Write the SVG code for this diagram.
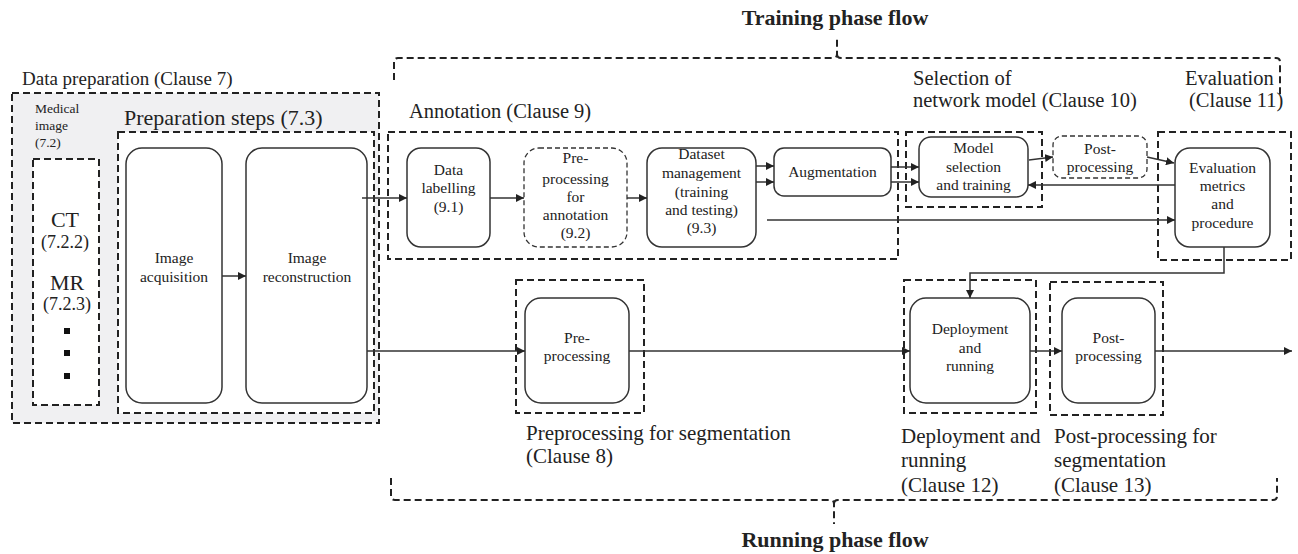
<svg xmlns="http://www.w3.org/2000/svg" width="1298" height="554" viewBox="0 0 1298 554">
<defs>
<style>
text{font-family:"Liberation Serif","Times New Roman",serif;fill:#222}
.n{font-size:15.5px;text-anchor:middle}
.lbl{font-size:20.5px}
.big{font-size:21px}
.bold{font-size:22px;font-weight:bold;text-anchor:middle}
.box{fill:#fff;stroke:#333;stroke-width:1.5}
.dbox{fill:#fff;stroke:#333;stroke-width:1.3;stroke-dasharray:5 3}
.grp{fill:none;stroke:#222;stroke-width:2;stroke-dasharray:7 4}
.grey{fill:#f0f0f2}
.white{fill:#fff}
.brace{fill:none;stroke:#222;stroke-width:2;stroke-dasharray:7 4}
.c{fill:none;stroke:#333;stroke-width:1.5}
</style>
<marker id="ah" viewBox="0 0 10 10" refX="10" refY="5" markerWidth="8" markerHeight="8" markerUnits="userSpaceOnUse" orient="auto">
<path d="M0,0 L10,5 L0,10 z" fill="#222"/>
</marker>
</defs>
<rect width="1298" height="554" fill="#fff"/>

<g id="data-preparation">
<rect x="12" y="93" width="367" height="330" class="grp grey"/>
<text x="22" y="85" style="font-size:19px">Data preparation (Clause 7)</text>
</g>
<g id="medical-image">
<text x="35" y="113" style="font-size:13.5px">Medical</text>
<text x="35" y="130" style="font-size:13.5px">image</text>
<text x="35" y="147" style="font-size:13.5px">(7.2)</text>
<rect x="33" y="159" width="66" height="246" class="grp white"/>
<text x="65" y="227" style="font-size:22px;text-anchor:middle">CT</text>
<text x="65" y="248" style="font-size:18px;text-anchor:middle">(7.2.2)</text>
<text x="67" y="290" style="font-size:22px;text-anchor:middle">MR</text>
<text x="67" y="310" style="font-size:18px;text-anchor:middle">(7.2.3)</text>
<rect x="64" y="328" width="6" height="6" fill="#111"/>
<rect x="64" y="350" width="6" height="6" fill="#111"/>
<rect x="64" y="373" width="6" height="6" fill="#111"/>
</g>
<g id="preparation-steps">
<text x="124" y="125" style="font-size:22px">Preparation steps (7.3)</text>
<rect x="118" y="132" width="256" height="281" class="grp white"/>
</g>
<g id="image-acquisition">
<rect x="126" y="148" width="96" height="255" rx="16" class="box"/>
<text class="n" x="174" y="263">Image</text>
<text class="n" x="174" y="282">acquisition</text>
</g>
<g id="image-reconstruction">
<rect x="246" y="148" width="121" height="255" rx="16" class="box"/>
<text class="n" x="307" y="263">Image</text>
<text class="n" x="307" y="282">reconstruction</text>
</g>

<g id="training-phase">
<text class="bold" x="835" y="25">Training phase flow</text>
<path class="brace" d="M394,80 V62 Q394,58 398,58 H833 Q837,58 837,54 V36 M837,54 Q837,58 841,58 H1276 Q1280,58 1280,62 V96"/>
</g>
<g id="annotation">
<text class="lbl" x="409" y="118">Annotation (Clause 9)</text>
<rect x="388" y="132" width="510" height="127" class="grp"/>
</g>
<g id="data-labelling">
<rect x="407" y="148" width="83" height="99" rx="14" class="box"/>
<text class="n" x="448.5" y="175">Data</text>
<text class="n" x="448.5" y="193">labelling</text>
<text class="n" x="448.5" y="212">(9.1)</text>
</g>
<g id="preprocessing-annotation">
<rect x="524" y="148" width="103" height="99" rx="15" class="dbox"/>
<text class="n" x="575.5" y="163">Pre-</text>
<text class="n" x="575.5" y="184">processing</text>
<text class="n" x="575.5" y="202">for</text>
<text class="n" x="575.5" y="220">annotation</text>
<text class="n" x="575.5" y="238">(9.2)</text>
</g>
<g id="dataset-management">
<rect x="647" y="148" width="109" height="99" rx="15" class="box"/>
<text class="n" x="701.5" y="159">Dataset</text>
<text class="n" x="701.5" y="178">management</text>
<text class="n" x="701.5" y="197">(training</text>
<text class="n" x="701.5" y="215">and testing)</text>
<text class="n" x="701.5" y="233">(9.3)</text>
</g>
<g id="augmentation">
<rect x="774" y="148" width="117" height="48" rx="10" class="box"/>
<text class="n" x="832.5" y="177">Augmentation</text>
</g>
<g id="selection-network-model">
<text class="lbl" x="913" y="85">Selection of</text>
<text class="lbl" x="913" y="107">network model (Clause 10)</text>
<rect x="906" y="132" width="136" height="75" class="grp"/>
</g>
<g id="model-selection">
<rect x="919" y="137" width="109" height="60" rx="12" class="box"/>
<text class="n" x="973.5" y="153">Model</text>
<text class="n" x="973.5" y="172">selection</text>
<text class="n" x="973.5" y="190">and training</text>
</g>
<g id="post-processing-training">
<rect x="1053" y="136" width="94" height="42" rx="9" class="dbox"/>
<text class="n" x="1100" y="154">Post-</text>
<text class="n" x="1100" y="172">processing</text>
</g>
<g id="evaluation">
<text class="lbl" x="1185" y="85">Evaluation</text>
<text class="lbl" x="1189" y="107">(Clause 11)</text>
<rect x="1158" y="132" width="133" height="128" class="grp"/>
</g>
<g id="evaluation-metrics">
<rect x="1175" y="148" width="95" height="99" rx="15" class="box"/>
<text class="n" x="1222.5" y="173">Evaluation</text>
<text class="n" x="1222.5" y="191">metrics</text>
<text class="n" x="1222.5" y="209">and</text>
<text class="n" x="1222.5" y="228">procedure</text>
</g>

<g id="preprocessing-segmentation">
<rect x="516" y="280" width="128" height="133" class="grp"/>
<text class="big" x="526" y="440">Preprocessing for segmentation</text>
<text class="big" x="526" y="463">(Clause 8)</text>
</g>
<g id="preprocessing-node">
<rect x="525" y="298" width="104" height="105" rx="16" class="box"/>
<text class="n" x="577" y="343">Pre-</text>
<text class="n" x="577" y="361">processing</text>
</g>
<g id="deployment-running">
<rect x="904" y="280" width="132" height="133" class="grp"/>
<text class="big" x="901" y="443">Deployment and</text>
<text class="big" x="901" y="467">running</text>
<text class="big" x="901" y="492">(Clause 12)</text>
</g>
<g id="deployment-node">
<rect x="910" y="298" width="120" height="105" rx="16" class="box"/>
<text class="n" x="970" y="334">Deployment</text>
<text class="n" x="970" y="353">and</text>
<text class="n" x="970" y="371">running</text>
</g>
<g id="post-processing-segmentation">
<rect x="1050" y="282" width="113" height="133" class="grp"/>
<text class="big" x="1054" y="443">Post-processing for</text>
<text class="big" x="1054" y="467">segmentation</text>
<text class="big" x="1054" y="492">(Clause 13)</text>
</g>
<g id="post-processing-node">
<rect x="1062" y="298" width="93" height="105" rx="16" class="box"/>
<text class="n" x="1108.5" y="343">Post-</text>
<text class="n" x="1108.5" y="361">processing</text>
</g>
<g id="running-phase">
<path class="brace" d="M391,478 V496 Q391,500 395,500 H830 Q834,500 834,504 V524 M834,504 Q834,500 838,500 H1273 Q1277,500 1277,496 V478"/>
<text class="bold" x="835" y="547">Running phase flow</text>
</g>

<g id="connectors">
<path class="c" d="M222,276 H246" marker-end="url(#ah)"/>
<path class="c" d="M362,198 H407" marker-end="url(#ah)"/>
<path class="c" d="M367,351 H525" marker-end="url(#ah)"/>
<path class="c" d="M490,198 H524" marker-end="url(#ah)"/>
<path class="c" d="M627,198 H647" marker-end="url(#ah)"/>
<path class="c" d="M756,166 H774" marker-end="url(#ah)"/>
<path class="c" d="M756,182 H774" marker-end="url(#ah)"/>
<path class="c" d="M891,167 H919" marker-end="url(#ah)"/>
<path class="c" d="M891,182 H919" marker-end="url(#ah)"/>
<path class="c" d="M767,220 H1175" marker-end="url(#ah)"/>
<path class="c" d="M1029,160 L1053,157" marker-end="url(#ah)"/>
<path class="c" d="M1147,157 L1174,163" marker-end="url(#ah)"/>
<path class="c" d="M1175,185 H1028" marker-end="url(#ah)"/>
<path class="c" d="M1224,247 V273 H970 V298" marker-end="url(#ah)"/>
<path class="c" d="M629,351 H910" marker-end="url(#ah)"/>
<path class="c" d="M1030,351 H1062" marker-end="url(#ah)"/>
<path class="c" d="M1155,351 H1292" marker-end="url(#ah)"/>
</g>
</svg>
